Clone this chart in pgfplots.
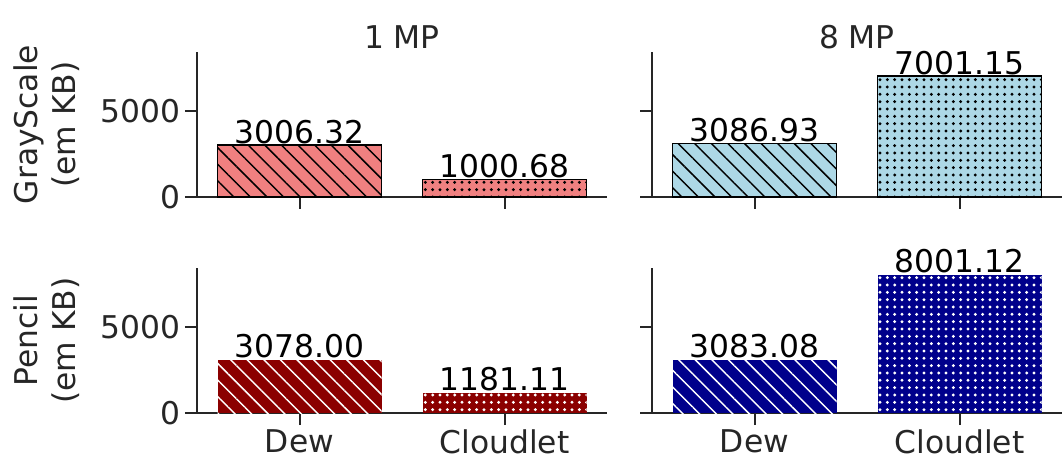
\documentclass[border=0pt]{standalone}
\usepackage{fontspec}
\setmainfont{DejaVu Sans}
\usepackage{pgfplots}
\pgfplotsset{compat=1.18}
\usetikzlibrary{patterns.meta}
\definecolor{lcoral}{HTML}{F08080}
\definecolor{lblue}{HTML}{ADD8E6}
\definecolor{dred}{HTML}{8B0000}
\definecolor{dblue}{HTML}{00008B}
\definecolor{axgray}{gray}{0.15}
\newcommand{\bigfont}{\fontsize{23.5}{28.5}\selectfont}
\pgfplotsset{
  panel/.style={
    scale only axis, width=307.5pt, height=108.75pt,
    xmin=-0.5, xmax=1.5, ymin=0, ymax=8401,
    axis lines=left,
    axis line style={-, line width=1.7pt, axgray},
    tick align=outside, major tick length=9pt,
    tick style={line width=1.5pt, axgray},
    xtick={0,1}, ytick={0,5000},
    xticklabels={}, yticklabels={},
    tick label style={font=\bigfont, text=axgray},
    label style={font=\bigfont, text=axgray},
    ylabel shift=9pt,
    title style={font=\bigfont, text=axgray, yshift=-7pt},
    clip=false,
    nodes near coords,
    point meta=explicit symbolic,
    every node near coord/.style={anchor=base, yshift=1.5pt, text=black, font=\bigfont},
  },
  dewtop/.style={ybar, bar width=0.8, bar shift=0pt, draw=black, line width=1pt,
    postaction={pattern={Lines[angle=-45,distance=8.8pt,line width=1.1pt]}, pattern color=black}},
  cloudtop/.style={ybar, bar width=0.8, bar shift=0pt, draw=black, line width=1pt,
    postaction={pattern={Dots[distance=5.5pt,radius=1.2pt]}, pattern color=black}},
  dewbot/.style={ybar, bar width=0.8, bar shift=0pt, draw=none,
    postaction={pattern={Lines[angle=-45,distance=8.8pt,line width=1.1pt]}, pattern color=white}},
  cloudbot/.style={ybar, bar width=0.8, bar shift=0pt, draw=none,
    postaction={pattern={Dots[distance=5.5pt,radius=1.2pt]}, pattern color=white}},
}
\begin{document}
\begin{tikzpicture}
\useasboundingbox (0,0) rectangle (797.25pt,345.75pt);
% top left
\begin{axis}[panel, at={(147.75pt,198pt)}, anchor=south west,
  title={1 MP}, yticklabels={0,5000},
  ylabel={GrayScale\\(em KB)}, ylabel style={align=center}]
\addplot[dewtop, fill=lcoral] coordinates {(0,3006.32) [3006.32]};
\addplot[cloudtop, fill=lcoral] coordinates {(1,1000.68) [1000.68]};
\end{axis}
% top right
\begin{axis}[panel, at={(489pt,198pt)}, anchor=south west,
  title={8 MP}]
\addplot[dewtop, fill=lblue] coordinates {(0,3086.93) [3086.93]};
\addplot[cloudtop, fill=lblue] coordinates {(1,7001.15) [7001.15]};
\end{axis}
% bottom left
\begin{axis}[panel, at={(147.75pt,36pt)}, anchor=south west,
  yticklabels={0,5000}, xticklabels={Dew,Cloudlet},
  ylabel={Pencil\\(em KB)}, ylabel style={align=center}]
\addplot[dewbot, fill=dred] coordinates {(0,3078.00) [3078.00]};
\addplot[cloudbot, fill=dred] coordinates {(1,1181.11) [1181.11]};
\end{axis}
% bottom right
\begin{axis}[panel, at={(489pt,36pt)}, anchor=south west,
  xticklabels={Dew,Cloudlet}]
\addplot[dewbot, fill=dblue] coordinates {(0,3083.08) [3083.08]};
\addplot[cloudbot, fill=dblue] coordinates {(1,8001.12) [8001.12]};
\end{axis}
\end{tikzpicture}
\end{document}
